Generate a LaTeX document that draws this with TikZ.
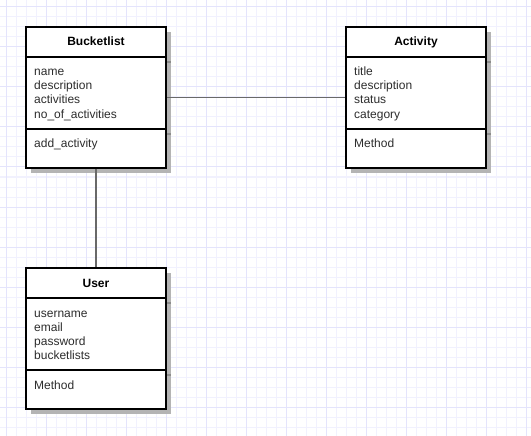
\documentclass[tikz,border=0pt]{standalone}
\usepackage{fontspec}
\setmainfont{Liberation Sans}
\usetikzlibrary{shadows}
\definecolor{gridminor}{RGB}{241,241,254}
\definecolor{gridmajor}{RGB}{228,228,252}
\definecolor{shadowgray}{RGB}{180,180,180}
\definecolor{shadowdark}{RGB}{140,140,140}
\definecolor{linkgray}{RGB}{105,105,105}
\definecolor{textgray}{RGB}{45,45,45}
\begin{document}
\begin{tikzpicture}[x=1pt,y=-1pt,
  classbox/.style={draw=black, line width=2pt, fill=white, inner sep=0pt,
    minimum width=140pt, minimum height=141pt,
    general shadow={fill=shadowgray, shadow xshift=5pt, shadow yshift=-5pt}},
  divider/.style={draw=black, line width=2pt},
  divshadow/.style={draw=shadowdark, line width=1.5pt},
  title/.style={font=\fontsize{12}{14}\selectfont\bfseries, text=black, anchor=base, inner sep=0pt},
  attr/.style={font=\fontsize{12}{14}\selectfont, text=textgray, anchor=base west, inner sep=0pt},
  link/.style={draw=linkgray, line width=1.8pt}]

% canvas and grid
\useasboundingbox (0,0) rectangle (531,436);
\fill[white] (0,0) rectangle (531,436);
\foreach \x in {6,16,...,526} \draw[gridminor, line width=1pt] (\x,0) -- (\x,436);
\foreach \y in {7,17,...,427} \draw[gridminor, line width=1pt] (0,\y) -- (531,\y);
\foreach \x in {6,46,...,526} \draw[gridmajor, line width=1pt] (\x,0) -- (\x,436);
\foreach \y in {7,47,...,407} \draw[gridmajor, line width=1pt] (0,\y) -- (531,\y);

% Bucketlist class
\node[classbox] (bl) at (96,97.5) {};
\draw[divshadow] (167,62) -- (171,62);
\draw[divshadow] (167,134) -- (171,134);
\draw[divider] (26,57) -- (166,57);
\draw[divider] (26,129) -- (166,129);
\node[title] (bl-title) at (96,46) {Bucketlist};
\foreach \t [count=\i] in {name,description,activities,no\_of\_activities}
  \node[attr] (bl-a\i) at (34,62+14*\i) {\t};
\node[attr] (bl-m1) at (34,148) {add\_activity};

% Activity class
\node[classbox] (act) at (416,97.5) {};
\draw[divshadow] (487,62) -- (491,62);
\draw[divshadow] (487,134) -- (491,134);
\draw[divider] (346,57) -- (486,57);
\draw[divider] (346,129) -- (486,129);
\node[title] (act-title) at (416,46) {Activity};
\foreach \t [count=\i] in {title,description,status,category}
  \node[attr] (act-a\i) at (354,62+14*\i) {\t};
\node[attr] (act-m1) at (354,148) {Method};

% User class
\node[classbox] (user) at (96,338.5) {};
\draw[divshadow] (167,303) -- (171,303);
\draw[divshadow] (167,375) -- (171,375);
\draw[divider] (26,298) -- (166,298);
\draw[divider] (26,370) -- (166,370);
\node[title] (user-title) at (96,287) {User};
\foreach \t [count=\i] in {username,email,password,bucketlists}
  \node[attr] (user-a\i) at (34,303+14*\i) {\t};
\node[attr] (user-m1) at (34,389) {Method};

% associations
\draw[link] (bl.east) -- (act.west);
\draw[link] (bl.south) -- (user.north);
\end{tikzpicture}
\end{document}
